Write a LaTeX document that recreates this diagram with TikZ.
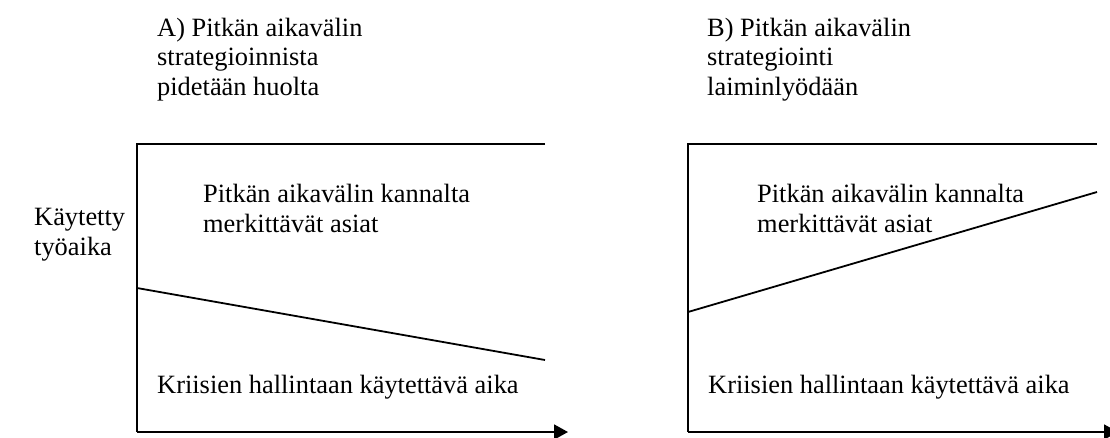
\documentclass[tikz,border=0pt]{standalone}
\usepackage{fontspec}
\setmainfont{Liberation Serif}
\usetikzlibrary{arrows.meta}
\begin{document}
\begin{tikzpicture}[x=1pt,y=-1pt,
  txt/.style={inner sep=0pt,anchor=base west,align=left,
    font=\fontsize{26.4}{29.5}\selectfont},
  frame/.style={line width=1.8pt,line join=miter},
  axis/.style={line width=1.8pt,-{Triangle[length=14pt,width=15pt]}},
  trend/.style={line width=1.8pt}]
  \useasboundingbox[fill=white] (0,0) rectangle (1110,437);

  % vertical axis label (anchored at the baseline of its last line)
  \node[txt] (ylab) at (34,255) {Käytetty\\työaika};

  % ---- panel A ----
  \node[txt] (ta) at (157,95) {A) Pitkän aikavälin\\strategioinnista\\pidetään huolta};
  \coordinate (a0) at (137,432);
  \coordinate (atop) at (137,144);
  \coordinate (atopR) at (545,144);
  \coordinate (aend) at (568,432);
  \coordinate (aL) at (137,288);
  \coordinate (aR) at (545,360);
  \draw[frame] (atopR) -- (atop) -- (a0);
  \draw[axis] (a0) -- (aend);
  \draw[trend] (aL) -- (aR);
  \node[txt] (aupper) at (203,232) {Pitkän aikavälin kannalta\\merkittävät asiat};
  \node[txt] (alower) at (157,393) {Kriisien hallintaan käytettävä aika};

  % ---- panel B ----
  \node[txt] (tb) at (707,95) {B) Pitkän aikavälin\\strategiointi\\laiminlyödään};
  \coordinate (b0) at (688,432);
  \coordinate (btop) at (688,144);
  \coordinate (btopR) at (1097,144);
  \coordinate (bend) at (1118,432);
  \coordinate (bL) at (688,312);
  \coordinate (bR) at (1097,192);
  \draw[frame] (btopR) -- (btop) -- (b0);
  \draw[axis] (b0) -- (bend);
  \draw[trend] (bL) -- (bR);
  \node[txt] (bupper) at (757,232) {Pitkän aikavälin kannalta\\merkittävät asiat};
  \node[txt] (blower) at (708,393) {Kriisien hallintaan käytettävä aika};
\end{tikzpicture}
\end{document}
